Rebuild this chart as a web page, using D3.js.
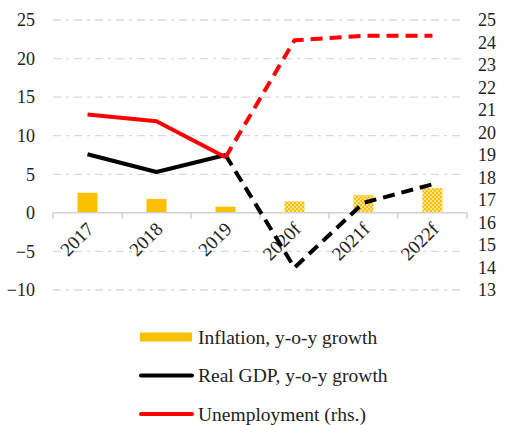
<!DOCTYPE html>
<html>
<head>
<meta charset="utf-8">
<script src="https://cdn.jsdelivr.net/npm/d3@7"></script>
<style>
  body { margin: 0; background: #fff; }
  text { font-family: "Liberation Serif", "DejaVu Serif", serif; fill: #222; }
</style>
</head>
<body>
<svg id="chart" width="505" height="425"></svg>
<script>
const years = ['2017', '2018', '2019', '2020f', '2021f', '2022f'];
const forecast = [false, false, false, true, true, true];
const inflation = [2.6, 1.8, 0.8, 1.5, 2.3, 3.2];
const gdp = [7.6, 5.3, 7.5, -7.1, 1.3, 3.7];
const unemployment = [20.8, 20.5, 18.9, 24.1, 24.3, 24.3];
const leftTicks = [-10, -5, 0, 5, 10, 15, 20, 25];
const rightTicks = [13, 14, 15, 16, 17, 18, 19, 20, 21, 22, 23, 24, 25];

const svg = d3.select('#chart');
const margin = { left: 53, right: 38, top: 20, bottom: 135 };
const W = 505, H = 425;

const x = d3.scaleBand().domain(years).range([margin.left, W - margin.right]);
const y = d3.scaleLinear().domain([-10, 25]).range([H - margin.bottom, margin.top]);
const y2 = d3.scaleLinear().domain([13, 25]).range([H - margin.bottom, margin.top]);

// checkered pattern for forecasts
const defs = svg.append('defs');
const pat = defs.append('pattern')
	.attr('id', 'check')
	.attr('width', 4).attr('height', 4)
	.attr('patternUnits', 'userSpaceOnUse');
pat.append('rect').attr('width', 4).attr('height', 4).attr('fill', '#ffe38a');
pat.append('rect').attr('width', 2).attr('height', 2).attr('fill', '#fcc000');
pat.append('rect').attr('x', 2).attr('y', 2).attr('width', 2).attr('height', 2).attr('fill', '#fcc000');

// gridlines
svg.append('g')
	.selectAll('line')
	.data(leftTicks.filter(d => d !== 0))
	.join('line')
	.attr('x1', margin.left)
	.attr('x2', W - margin.right - 5)
	.attr('y1', d => y(d))
	.attr('y2', d => y(d))
	.attr('stroke', '#d9d9d9')
	.attr('stroke-width', 1.3)
	.attr('stroke-dasharray', '8,5,3,5');

// left axis
const yAxis = d3.axisLeft(y).tickValues(leftTicks).tickSize(0).tickPadding(18);
svg.append('g')
	.attr('transform', `translate(${margin.left},0)`)
	.call(yAxis)
	.call(g => g.select('.domain').remove())
	.selectAll('text')
	.style('font-size', '18px');

// right axis
const yAxisR = d3.axisRight(y2).tickValues(rightTicks).tickSize(0).tickPadding(16);
svg.append('g')
	.attr('transform', `translate(${W - margin.right - 5},0)`)
	.call(yAxisR)
	.call(g => g.select('.domain').remove())
	.selectAll('text')
	.style('font-size', '18px');

// bars
const bw = 20;
svg.append('g')
	.selectAll('rect')
	.data(years)
	.join('rect')
	.attr('x', d => x(d) + x.bandwidth() / 2 - bw / 2)
	.attr('width', bw)
	.attr('y', (d, i) => y(inflation[i]))
	.attr('height', (d, i) => y(0) - y(inflation[i]))
	.attr('fill', (d, i) => (forecast[i] ? 'url(#check)' : '#fcc000'));

// zero axis with ticks
svg.append('line')
	.attr('x1', margin.left).attr('x2', W - margin.right)
	.attr('y1', y(0)).attr('y2', y(0))
	.attr('stroke', '#d0d0d0').attr('stroke-width', 1.5);
svg.append('g')
	.selectAll('line')
	.data(years.concat(['end']))
	.join('line')
	.attr('x1', (d, i) => margin.left + i * x.bandwidth())
	.attr('x2', (d, i) => margin.left + i * x.bandwidth())
	.attr('y1', y(0)).attr('y2', y(0) + 6)
	.attr('stroke', '#d0d0d0').attr('stroke-width', 1.5);

// x labels
svg.append('g')
	.selectAll('text')
	.data(years)
	.join('text')
	.attr('transform', d => `translate(${x(d) + x.bandwidth() / 2 - 2},${y(0) + 8}) rotate(-45)`)
	.attr('text-anchor', 'end')
	.attr('dy', '0.7em')
	.style('font-size', '19px')
	.text(d => d);

const cx = d => x(d) + x.bandwidth() / 2;

const drawSeries = (vals, scale, color) => {
	const pts = years.map((d, i) => [cx(d), scale(vals[i])]);
	const line = d3.line();
	svg.append('path')
		.attr('d', line(pts.slice(0, 3)))
		.attr('fill', 'none')
		.attr('stroke', color)
		.attr('stroke-width', 4)
		.attr('stroke-linejoin', 'round');
	svg.append('path')
		.attr('d', line(pts.slice(2)))
		.attr('fill', 'none')
		.attr('stroke', color)
		.attr('stroke-width', 4)
		.attr('stroke-linejoin', 'round')
		.attr('stroke-dasharray', '12,7');
};

drawSeries(gdp, y, '#000');
drawSeries(unemployment, y2, '#ff0000');

// legend
const legend = [
	{ label: 'Inflation, y-o-y growth', type: 'rect', color: '#fcc000' },
	{ label: 'Real GDP, y-o-y growth', type: 'line', color: '#000' },
	{ label: 'Unemployment (rhs.)', type: 'line', color: '#ff0000' }
];
const lg = svg.append('g').attr('transform', 'translate(140,337)');
legend.forEach((d, i) => {
	const row = lg.append('g').attr('transform', `translate(0,${i * 38.5})`);
	if (d.type === 'rect') {
		row.append('rect').attr('x', 0).attr('y', -4.5).attr('width', 52).attr('height', 9).attr('fill', d.color);
	} else {
		row.append('line').attr('x1', 1).attr('x2', 52).attr('y1', 0).attr('y2', 0)
			.attr('stroke', d.color).attr('stroke-width', 4).attr('stroke-linecap', 'round');
	}
	row.append('text').attr('x', 58).attr('dy', '0.35em').style('font-size', '19.5px').text(d.label);
});
</script>
</body>
</html>
